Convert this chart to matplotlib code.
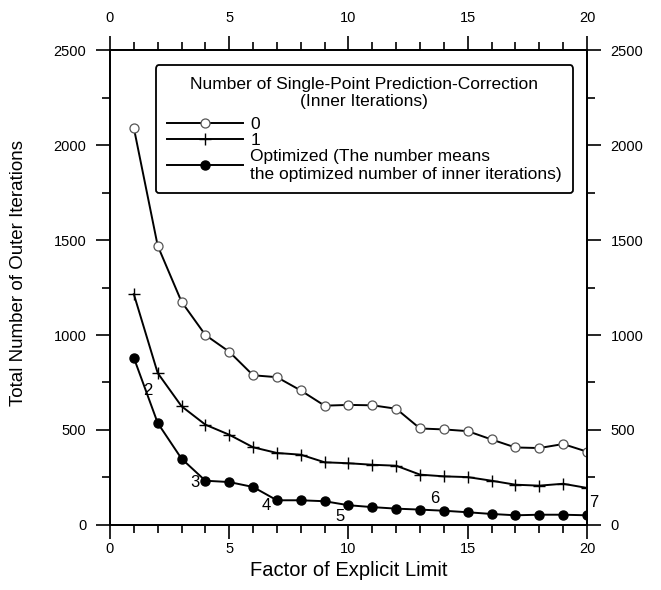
import matplotlib
matplotlib.use("Agg")
import matplotlib.pyplot as plt
from matplotlib.ticker import MultipleLocator

plt.rcParams['font.family'] = ['Liberation Sans', 'DejaVu Sans']

x = list(range(1, 21))
inner0 = [2090, 1470, 1175, 1000, 912, 788, 778, 708, 628, 632,
          630, 612, 508, 503, 494, 450, 408, 405, 426, 386]
inner1 = [1215, 800, 625, 528, 475, 409, 379, 370, 330, 325,
          317, 312, 265, 256, 252, 233, 212, 207, 217, 195]
optimized = [880, 537, 349, 233, 226, 200, 130, 130, 125, 104,
             94, 86, 81, 75, 67, 58, 51, 54, 54, 51]
opt_labels = ["2", "3", "4", "5", "6", "7"]
opt_label_x = [1.6, 3.55, 6.55, 9.65, 13.6, 20.3]
opt_label_y = [710, 226, 105, 45, 142, 116]

legend_title = "Number of Single-Point Prediction-Correction\n(Inner Iterations)"
series_names = ["0", "1", "Optimized (The number means\nthe optimized number of inner iterations)"]

fig = plt.figure(figsize=(6.61, 5.90), dpi=100)
ax = fig.add_axes([0.1664, 0.1102, 0.7216, 0.805])

ax.plot(x, inner0, color='black', lw=1.4, marker='o', ms=6.5, mfc='white',
        mec='#555555', mew=0.9, label=series_names[0])
ax.plot(x, inner1, color='black', lw=1.4, marker='+', ms=8, mew=1.0,
        label=series_names[1])
ax.plot(x, optimized, color='black', lw=1.4, marker='o', ms=6.5, mfc='black',
        mec='black', label=series_names[2])

for t, tx, ty in zip(opt_labels, opt_label_x, opt_label_y):
    ax.text(tx, ty, t, fontsize=12, ha='center', va='center')

ax.set_xlim(0, 20)
ax.set_ylim(0, 2500)
ax.xaxis.set_major_locator(MultipleLocator(5))
ax.xaxis.set_minor_locator(MultipleLocator(1))
ax.yaxis.set_major_locator(MultipleLocator(500))
ax.yaxis.set_minor_locator(MultipleLocator(250))
ax.tick_params(which='both', direction='out', top=False, right=True,
               labelright=True, labelsize=10.5, width=1.2)
ax.tick_params(which='major', length=10)
ax.tick_params(which='minor', length=5.5)
ax.tick_params(axis='x', which='major', pad=2)
ax.tick_params(axis='y', which='major', pad=7)

top = ax.twiny()
top.set_xlim(ax.get_xlim())
top.xaxis.set_major_locator(MultipleLocator(5))
top.xaxis.set_minor_locator(MultipleLocator(1))
top.tick_params(which='both', direction='out', labelsize=10.5, width=1.2)
top.tick_params(which='major', length=10, pad=8)
top.tick_params(which='minor', length=5.5)
for s in list(ax.spines.values()) + list(top.spines.values()):
    s.set_linewidth(1.3)

ax.set_xlabel("Factor of Explicit Limit", fontsize=14.5, labelpad=4)
ax.set_ylabel("Total Number of Outer Iterations", fontsize=13.5)
ax.yaxis.set_label_coords(-0.175, 0.53)

leg = top.legend(*ax.get_legend_handles_labels(), title=legend_title,
                 loc='upper right', bbox_to_anchor=(0.971, 0.968),
                 borderaxespad=0, fontsize=12.5, title_fontsize=12.5, handlelength=4.4,
                 handletextpad=0.4, labelspacing=0.05, borderpad=0.65,
                 frameon=True, fancybox=True, edgecolor='black', framealpha=1)
leg.get_frame().set_linewidth(1.3)
leg._legend_box.align = "center"
leg._legend_box.sep = 6
leg.get_title().set_multialignment('center')

fig.savefig("out.png", dpi=100)
